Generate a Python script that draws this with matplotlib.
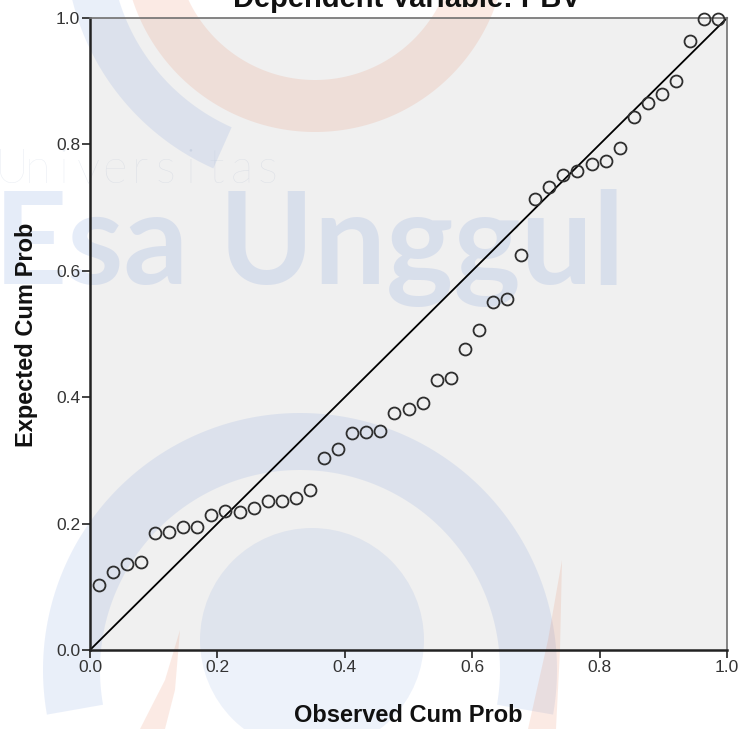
import numpy as np
import matplotlib
matplotlib.use("Agg")
import matplotlib.pyplot as plt
from matplotlib.patches import Polygon, Circle, Rectangle

# ---- data ----
observed_cum_prob = [0.0138, 0.0359, 0.0580, 0.0801, 0.1022, 0.1243, 0.1464, 0.1685, 0.1906,
                     0.2127, 0.2348, 0.2569, 0.2790, 0.3011, 0.3232, 0.3453, 0.3674, 0.3895,
                     0.4116, 0.4337, 0.4558, 0.4779, 0.5000, 0.5221, 0.5442, 0.5663, 0.5884,
                     0.6105, 0.6326, 0.6547, 0.6768, 0.6989, 0.7210, 0.7431, 0.7652, 0.7873,
                     0.8094, 0.8315, 0.8536, 0.8757, 0.8978, 0.9199, 0.9420, 0.9641, 0.9862]
expected_cum_prob = [0.103, 0.123, 0.136, 0.140, 0.185, 0.186, 0.194, 0.194, 0.213,
                     0.220, 0.219, 0.224, 0.235, 0.236, 0.240, 0.253, 0.304, 0.318,
                     0.344, 0.345, 0.346, 0.375, 0.382, 0.391, 0.427, 0.430, 0.477,
                     0.506, 0.550, 0.556, 0.625, 0.713, 0.732, 0.752, 0.758, 0.769,
                     0.774, 0.795, 0.844, 0.866, 0.879, 0.901, 0.964, 0.998, 0.999]
ticks = [0.0, 0.2, 0.4, 0.6, 0.8, 1.0]
tick_labels = ["0.0", "0.2", "0.4", "0.6", "0.8", "1.0"]
title = "Dependent Variable: PBV"
xlabel = "Observed Cum Prob"
ylabel = "Expected Cum Prob"

W, H = 741, 729
fig = plt.figure(figsize=(W / 100, H / 100), dpi=100)
fig.patch.set_facecolor("white")

# plot-area in pixels
L, R, T, B = 90, 727, 18, 650

# ---- background + watermark layer (pixel coordinates) ----
bg = fig.add_axes([0, 0, 1, 1], zorder=0)
bg.set_xlim(0, W)
bg.set_ylim(H, 0)
bg.axis("off")
bg.add_patch(Rectangle((L, T), R - L, B - T, facecolor="#F0F0F0", edgecolor="none", zorder=0))

BLUE = "#3D6FD0"
ORANGE = "#E87850"


def ring(cx, cy, r_in, r_out, a0, a1, n=200):
    a = np.radians(np.linspace(a0, a1, n))
    xo = cx + r_out * np.cos(a)
    yo = cy - r_out * np.sin(a)
    xi = cx + r_in * np.cos(a[::-1])
    yi = cy - r_in * np.sin(a[::-1])
    return np.column_stack([np.r_[xo, xi], np.r_[yo, yi]])


wm = dict(edgecolor="none", zorder=1)
AB, AO = 0.11, 0.15
# top orange ring
bg.add_patch(Polygon(ring(315, -60, 140, 192, 180, 360), facecolor=ORANGE, alpha=AO, **wm))
# top-left blue swoosh
bg.add_patch(Polygon(ring(315, -60, 205, 250, 190, 246), facecolor=BLUE, alpha=AB, **wm))
# bottom blue ring
bg.add_patch(Polygon(ring(300, 670, 200, 257, -10, 190), facecolor=BLUE, alpha=AB, **wm))
# inner blue disc
bg.add_patch(Circle((312, 640), 112, facecolor=BLUE, alpha=0.09, **wm))
# orange swooshes bottom
bg.add_patch(Polygon([(180, 630), (165, 680), (140, 729), (165, 729), (175, 690)],
                     facecolor=ORANGE, alpha=AO, **wm))
bg.add_patch(Polygon([(562, 560), (548, 640), (528, 729), (556, 729), (560, 650)],
                     facecolor=ORANGE, alpha=AO, **wm))
# watermark text
for i, ch in enumerate("Universitas"):
    bg.text(12 + i * 25.5, 183, ch, fontsize=34, fontweight="light", family="Lato",
            color="#5070A0", alpha=0.12, ha="center", va="baseline", zorder=1)
bg.text(-6, 284, "Esa Unggul", fontsize=92, fontweight="bold", family="Lato",
        color=BLUE, alpha=0.13, ha="left", va="baseline", zorder=1)

# ---- main axes ----
ax = fig.add_axes([L / W, 1 - B / H, (R - L) / W, (B - T) / H], zorder=2)
ax.set_facecolor("none")
ax.set_xlim(0, 1)
ax.set_ylim(0, 1)

ax.plot([0, 1], [0, 1], color="black", lw=1.3, zorder=2, clip_on=False)
ax.plot(observed_cum_prob, expected_cum_prob, linestyle="none", marker="o",
        markersize=8.6, markerfacecolor="none", markeredgecolor="#2e2e2e",
        markeredgewidth=1.3, zorder=3, clip_on=False)

ax.set_xticks(ticks)
ax.set_yticks(ticks)
ax.set_xticklabels(tick_labels)
ax.set_yticklabels(tick_labels)
ax.tick_params(axis="both", direction="out", length=6, width=1.2, color="#222222",
               labelsize=12.5, labelcolor="#333333")
ax.tick_params(axis="x", pad=1)
ax.tick_params(axis="y", pad=1)
for lab in ax.get_xticklabels() + ax.get_yticklabels():
    lab.set_family("Liberation Sans")

for s in ["left", "bottom"]:
    ax.spines[s].set_color("#222222")
    ax.spines[s].set_linewidth(1.8)
for s in ["top", "right"]:
    ax.spines[s].set_color("#707070")
    ax.spines[s].set_linewidth(1.2)

fig.text(408 / W, 1 - 716 / H, xlabel, ha="center", va="center", fontsize=17,
         fontweight="bold", family="Liberation Sans", color="#111111")
fig.text(27 / W, 1 - 335 / H, ylabel, ha="center", va="center", rotation=90, fontsize=17,
         fontweight="bold", family="Liberation Sans", color="#111111")
fig.text(407 / W, 1 - 7 / H, title, ha="center", va="baseline", fontsize=21,
         fontweight="bold", family="Liberation Sans", color="#111111")

fig.savefig("out.png", dpi=100)
